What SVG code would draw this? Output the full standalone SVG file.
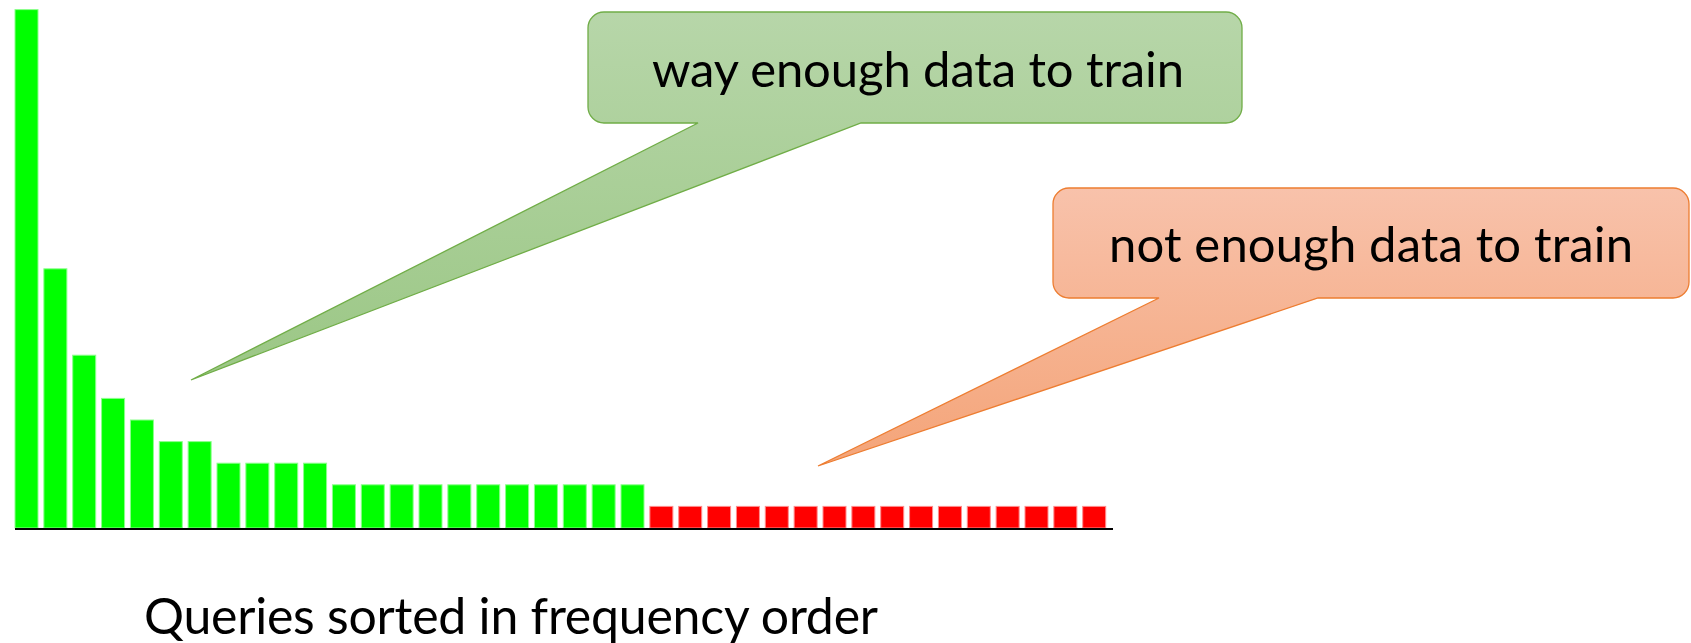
<svg xmlns="http://www.w3.org/2000/svg" width="1691" height="643" viewBox="0 0 1691 643">
<style>
.g{fill:#00FF00;stroke:#8CFF8C;stroke-width:1}
.r{fill:#FF0000;stroke:#FF8C8C;stroke-width:1}
.lbl{font-family:Lato,"Liberation Sans",sans-serif;fill:#000}
</style>
<defs>
<linearGradient id="gg" x1="0" y1="0" x2="0" y2="1">
<stop offset="0" stop-color="#B7D6A9"/><stop offset="1" stop-color="#9BC785"/>
</linearGradient>
<linearGradient id="og" x1="0" y1="0" x2="0" y2="1">
<stop offset="0" stop-color="#F8C2AB"/><stop offset="1" stop-color="#F4A478"/>
</linearGradient>
</defs>
<rect width="1691" height="643" fill="#fff"/>
<g id="bars">
<rect class="g" x="15" y="9.6" width="23" height="518.4"/>
<rect class="g" x="43.86" y="268.8" width="23" height="259.2"/>
<rect class="g" x="72.71" y="355.2" width="23" height="172.8"/>
<rect class="g" x="101.57" y="398.4" width="23" height="129.6"/>
<rect class="g" x="130.43" y="420" width="23" height="108"/>
<rect class="g" x="159.29" y="441.6" width="23" height="86.4"/>
<rect class="g" x="188.14" y="441.6" width="23" height="86.4"/>
<rect class="g" x="217" y="463.2" width="23" height="64.8"/>
<rect class="g" x="245.86" y="463.2" width="23" height="64.8"/>
<rect class="g" x="274.71" y="463.2" width="23" height="64.8"/>
<rect class="g" x="303.57" y="463.2" width="23" height="64.8"/>
<rect class="g" x="332.43" y="484.8" width="23" height="43.2"/>
<rect class="g" x="361.29" y="484.8" width="23" height="43.2"/>
<rect class="g" x="390.14" y="484.8" width="23" height="43.2"/>
<rect class="g" x="419" y="484.8" width="23" height="43.2"/>
<rect class="g" x="447.86" y="484.8" width="23" height="43.2"/>
<rect class="g" x="476.71" y="484.8" width="23" height="43.2"/>
<rect class="g" x="505.57" y="484.8" width="23" height="43.2"/>
<rect class="g" x="534.43" y="484.8" width="23" height="43.2"/>
<rect class="g" x="563.29" y="484.8" width="23" height="43.2"/>
<rect class="g" x="592.14" y="484.8" width="23" height="43.2"/>
<rect class="g" x="621" y="484.8" width="23" height="43.2"/>
<rect class="r" x="649.86" y="506.4" width="23" height="21.6"/>
<rect class="r" x="678.71" y="506.4" width="23" height="21.6"/>
<rect class="r" x="707.57" y="506.4" width="23" height="21.6"/>
<rect class="r" x="736.43" y="506.4" width="23" height="21.6"/>
<rect class="r" x="765.29" y="506.4" width="23" height="21.6"/>
<rect class="r" x="794.14" y="506.4" width="23" height="21.6"/>
<rect class="r" x="823" y="506.4" width="23" height="21.6"/>
<rect class="r" x="851.86" y="506.4" width="23" height="21.6"/>
<rect class="r" x="880.71" y="506.4" width="23" height="21.6"/>
<rect class="r" x="909.57" y="506.4" width="23" height="21.6"/>
<rect class="r" x="938.43" y="506.4" width="23" height="21.6"/>
<rect class="r" x="967.29" y="506.4" width="23" height="21.6"/>
<rect class="r" x="996.14" y="506.4" width="23" height="21.6"/>
<rect class="r" x="1025" y="506.4" width="23" height="21.6"/>
<rect class="r" x="1053.86" y="506.4" width="23" height="21.6"/>
<rect class="r" x="1082.71" y="506.4" width="23" height="21.6"/>
</g>
<g id="axis">
<line x1="15" y1="529" x2="1113" y2="529" stroke="#000" stroke-width="2"/>
</g>
<g id="callout-enough">
<path d="M604,12 H1226 A16,16 0 0 1 1242,28 V107 A16,16 0 0 1 1226,123 H861 L191,380 L698,123 H604 A16,16 0 0 1 588,107 V28 A16,16 0 0 1 604,12 Z" fill="url(#gg)" stroke="#70AD47" stroke-width="1.3"/>
<text class="lbl" x="918" y="87" font-size="49" text-anchor="middle" textLength="532" lengthAdjust="spacing">way enough data to train</text>
</g>
<g id="callout-not-enough">
<path d="M1069,188 H1673 A16,16 0 0 1 1689,204 V282 A16,16 0 0 1 1673,298 H1318 L818,466 L1159,298 H1069 A16,16 0 0 1 1053,282 V204 A16,16 0 0 1 1069,188 Z" fill="url(#og)" stroke="#ED7D31" stroke-width="1.3"/>
<text class="lbl" x="1371" y="262" font-size="49" text-anchor="middle" textLength="524" lengthAdjust="spacing">not enough data to train</text>
</g>
<g id="xlabel">
<text class="lbl" x="511" y="634" font-size="50" text-anchor="middle" textLength="734" lengthAdjust="spacing">Queries sorted in frequency order</text>
</g>
</svg>
